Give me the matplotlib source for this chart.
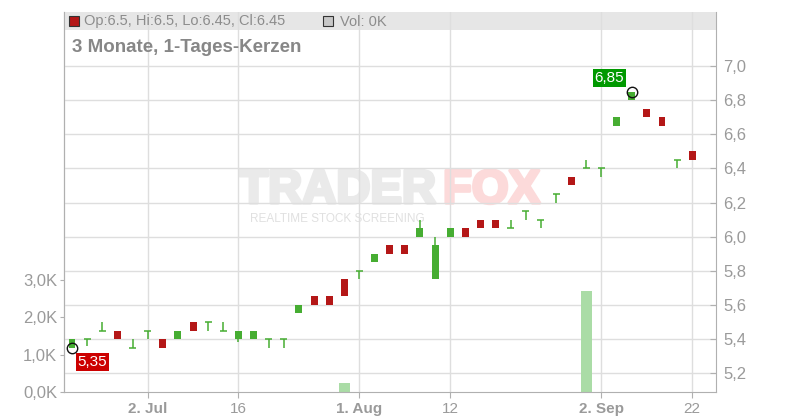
import matplotlib
matplotlib.use('Agg')
import matplotlib.pyplot as plt
import matplotlib.patheffects as pe
from matplotlib.patches import Rectangle
import numpy as np

plt.rcParams['font.family'] = ['Liberation Sans', 'DejaVu Sans']

# daily candles (trading days only)
opens  = [5.35, 5.40, 5.45, 5.45, 5.35, 5.45, 5.40, 5.40, 5.50, 5.50, 5.45, 5.40, 5.40, 5.40,
          5.40, 5.55, 5.65, 5.65, 5.75, 5.80, 5.85, 5.95, 5.95, 6.00, 5.75, 6.00, 6.05, 6.10,
          6.10, 6.05, 6.15, 6.10, 6.25, 6.35, 6.40, 6.40, 6.65, 6.80, 6.75, 6.70, 6.45, 6.50]
highs  = [5.40, 5.40, 5.50, 5.45, 5.40, 5.45, 5.40, 5.45, 5.50, 5.50, 5.50, 5.45, 5.45, 5.40,
          5.40, 5.60, 5.65, 5.65, 5.75, 5.80, 5.90, 5.95, 5.95, 6.10, 6.00, 6.05, 6.05, 6.10,
          6.10, 6.10, 6.15, 6.10, 6.25, 6.35, 6.45, 6.40, 6.70, 6.85, 6.75, 6.70, 6.45, 6.50]
lows   = [5.35, 5.36, 5.45, 5.40, 5.35, 5.40, 5.35, 5.40, 5.45, 5.45, 5.45, 5.38, 5.40, 5.35,
          5.35, 5.55, 5.60, 5.60, 5.65, 5.75, 5.85, 5.90, 5.90, 6.00, 5.75, 6.00, 6.00, 6.05,
          6.05, 6.05, 6.10, 6.05, 6.20, 6.30, 6.40, 6.35, 6.65, 6.80, 6.70, 6.65, 6.40, 6.45]
closes = [5.40, 5.40, 5.45, 5.40, 5.35, 5.45, 5.35, 5.45, 5.45, 5.50, 5.45, 5.45, 5.45, 5.40,
          5.40, 5.60, 5.60, 5.60, 5.65, 5.80, 5.90, 5.90, 5.90, 6.05, 5.95, 6.05, 6.00, 6.05,
          6.05, 6.05, 6.15, 6.10, 6.25, 6.30, 6.40, 6.40, 6.70, 6.85, 6.70, 6.65, 6.45, 6.45]
volume = [0, 0, 0, 0, 0, 0, 0, 0, 0, 0, 0, 0, 0, 0,
          0, 0, 0, 0, 0.24, 0, 0, 0, 0, 0, 0, 0, 0, 0,
          0, 0, 0, 0, 0, 0, 2.7, 0, 0, 0, 0, 0, 0, 0]   # in K

tick_pos = [5, 11, 19, 25, 35, 41]
tick_labels = ['2. Jul', '16', '1. Aug', '12', '2. Sep', '22']
month_start = [True, False, True, False, True, False]

price_ticks = [5.2, 5.4, 5.6, 5.8, 6.0, 6.2, 6.4, 6.6, 6.8, 7.0]
vol_ticks = [0, 1, 2, 3]

GREEN = '#46ad32'
RED = '#b41717'
GRAY = '#9a9a9a'
GRID = '#dedede'

y0, y1 = 5.090, 7.316
vol_unit = 0.219   # price units per 1K volume


def vol2price(v):
    return y0 + np.asarray(v) * vol_unit


def price2vol(p):
    return (np.asarray(p) - y0) / vol_unit


o = np.array(opens); h = np.array(highs); l = np.array(lows); c = np.array(closes)
x = np.arange(len(o))

fig = plt.figure(figsize=(8, 4.2), dpi=100)
ax = fig.add_axes([64 / 800, 28 / 420, 652 / 800, 380 / 420])
ax.set_xlim(-0.53, 42.57)
ax.set_ylim(y0, y1)
ft = fig.transFigure

# header band + grid
ax.add_patch(Rectangle((0, 1 - 18 / 380), 1, 18 / 380, transform=ax.transAxes,
                       color='#e6e6e6', zorder=0.2, lw=0))
ax.set_axisbelow(True)
ax.grid(True, color=GRID, lw=1)

# watermark (behind grid)
ax.text(436 / 800, 1 - 191 / 420, 'TRADER', transform=ft, ha='right', va='center',
        fontsize=34, fontweight='bold', color='#eaeaea', zorder=0.3,
        path_effects=[pe.withStroke(linewidth=2.5, foreground='#eaeaea')])
ax.text(443 / 800, 1 - 191 / 420, 'FOX', transform=ft, ha='left', va='center',
        fontsize=34, fontweight='bold', color='#fcdada', zorder=0.3,
        path_effects=[pe.withStroke(linewidth=2.5, foreground='#fcdada')])
ax.text(250 / 800, 1 - 219 / 420, 'REALTIME STOCK SCREENING', transform=ft, ha='left',
        va='center', fontsize=8.5, color='#e0e0e0', zorder=0.3)

# volume
vol = np.array(volume)
ax.bar(x, vol * vol_unit, bottom=y0, width=0.72, color='#aadca6', zorder=2)

# candles
up = c > o
dn = c < o
dj = c == o
ax.vlines(x, l, h, color=np.where(dn, RED, GREEN), lw=1.1, zorder=3)
ax.bar(x[up], c[up] - o[up], bottom=o[up], width=0.46, color=GREEN, zorder=4)
ax.bar(x[dn], o[dn] - c[dn], bottom=c[dn], width=0.46, color=RED, zorder=4)
ax.hlines(o[dj], x[dj] - 0.23, x[dj] + 0.23, color=GREEN, lw=1.1, zorder=4)

# min / max markers
imin = int(np.argmin(l)); imax = int(np.argmax(h))
ax.plot([imin, imax], [l[imin], h[imax]], 'o', ms=7.5, mfc='none', mec='#111111', mew=1, zorder=5)
ax.annotate(f'{l[imin]:.2f}'.replace('.', ','), (imin, l[imin]), xytext=(4, -5.5),
            textcoords='offset points', ha='left', va='top', color='white', fontsize=11,
            bbox=dict(boxstyle='square,pad=0.12', fc='#cc0000', ec='none'), zorder=6)
ax.annotate(f'{h[imax]:.2f}'.replace('.', ','), (imax, h[imax]), xytext=(-5.5, 4.5),
            textcoords='offset points', ha='right', va='bottom', color='white', fontsize=11,
            bbox=dict(boxstyle='square,pad=0.12', fc='#009900', ec='none'), zorder=6)

# axes styling
ax.spines['top'].set_visible(False)
for s in ['left', 'right', 'bottom']:
    ax.spines[s].set_color('#b0b0b0')
ax.yaxis.tick_right()
ax.set_yticks(price_ticks)
ax.set_yticklabels([f'{p:.1f}'.replace('.', ',') for p in price_ticks])
ax.tick_params(axis='y', direction='in', length=4, color='#b0b0b0', labelcolor=GRAY,
               labelsize=12, pad=5)
ax.set_xticks(tick_pos)
ax.set_xticklabels(tick_labels)
ax.tick_params(axis='x', length=4, color='#b0b0b0', labelcolor=GRAY, labelsize=11, pad=3)
for lab, bold in zip(ax.get_xticklabels(), month_start):
    if bold:
        lab.set_fontweight('bold')

sec = ax.secondary_yaxis('left', functions=(price2vol, vol2price))
sec.set_yticks(vol_ticks)
sec.set_yticklabels([f'{v:.1f}K'.replace('.', ',') for v in vol_ticks])
sec.tick_params(length=3, color='#b0b0b0', labelcolor=GRAY, labelsize=12, pad=2)
sec.spines['left'].set_color('#b0b0b0')

# header texts
last = len(o) - 1
ax.add_patch(Rectangle((69 / 800, 1 - 26 / 420), 10 / 800, 10 / 420, transform=ft,
                       fc=RED if c[last] < o[last] else GREEN, ec='#333333', lw=0.8, zorder=7))
fig.text(84 / 800, 1 - 21.5 / 420,
         f'Op:{o[last]:g}, Hi:{h[last]:g}, Lo:{l[last]:g}, Cl:{c[last]:g}',
         ha='left', va='center', fontsize=10.5, color='#8c8c8c')
ax.add_patch(Rectangle((323 / 800, 1 - 26 / 420), 10 / 800, 10 / 420, transform=ft,
                       fc='#c8c8c8', ec='#333333', lw=0.8, zorder=7))
fig.text(340 / 800, 1 - 21.5 / 420, f'Vol: {vol[last]:.0f}K', ha='left', va='center',
         fontsize=10.5, color='#8c8c8c')
fig.text(72 / 800, 1 - 48 / 420, '3 Monate, 1-Tages-Kerzen', ha='left', va='center',
         fontsize=13.5, fontweight='bold', color='#878787')

fig.savefig('out.png', dpi=100)
